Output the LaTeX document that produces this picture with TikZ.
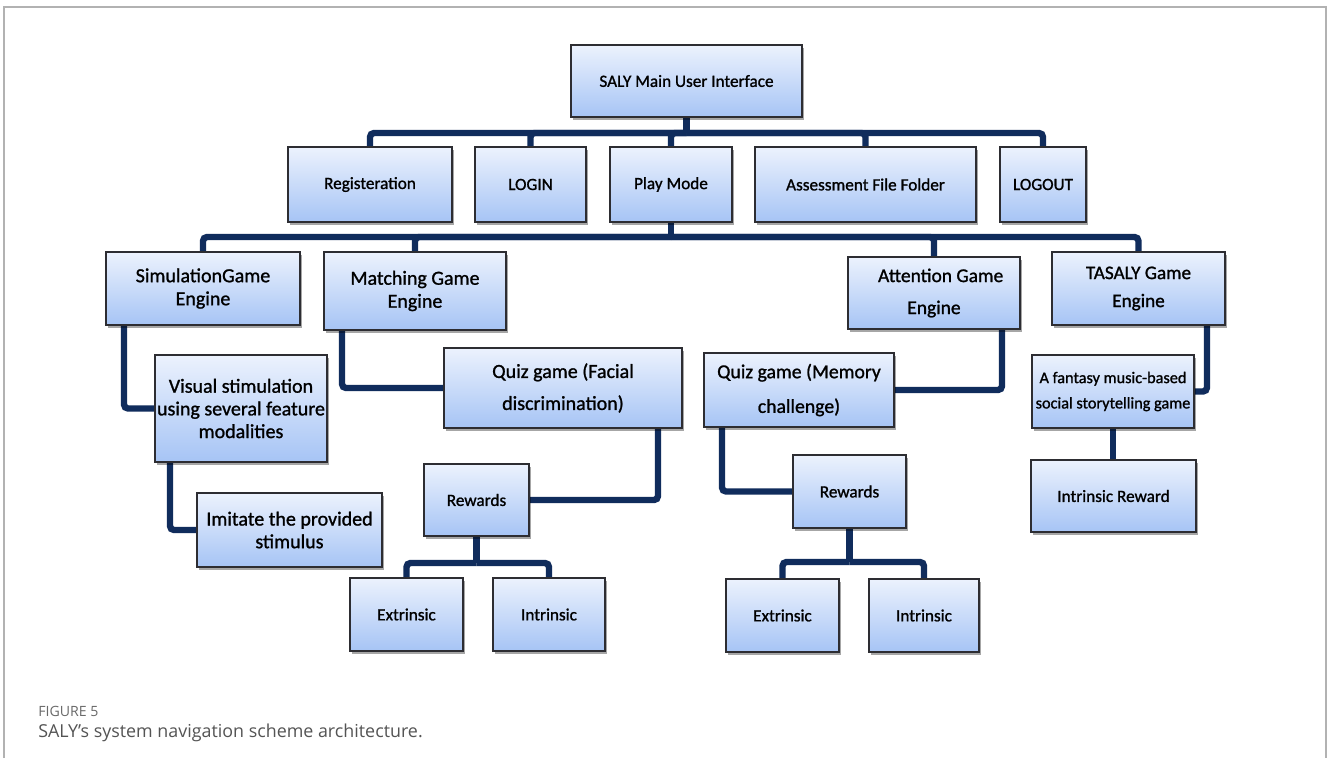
\documentclass[tikz,border=0pt]{standalone}
\usepackage{fontspec}
\setmainfont{Carlito}
\newfontfamily\boxfont{Carlito}[RawFeature={embolden=1.1}]
\newfontfamily\capfont{Open Sans}
\usetikzlibrary{shadows,calc}

\definecolor{linknavy}{RGB}{16,44,92}
\definecolor{boxtop}{RGB}{236,242,253}
\definecolor{boxbot}{RGB}{166,196,245}
\definecolor{boxedge}{RGB}{45,45,50}
\definecolor{framegray}{RGB}{178,178,178}
\definecolor{capgray}{RGB}{105,105,105}

\pgfdeclarelayer{links}
\pgfsetlayers{links,main}

\tikzset{
  box/.style={draw=boxedge, line width=1.1pt, top color=boxtop, bottom color=boxbot,
    inner sep=0pt, outer sep=0pt, align=center, text=black,
    drop shadow={shadow xshift=1.5pt, shadow yshift=-2.5pt, opacity=0.35, fill=black}},
  txtbig/.style={font=\boxfont\fontsize{15}{17.25}\selectfont},
  txtsmall/.style={font=\boxfont\fontsize{12.9}{15}\selectfont},
  conn/.style={draw=linknavy, line width=4.8pt, rounded corners=3pt},
}

% box given by its corners in pixel units: [style]{name}{x1}{y1}{x2}{y2}{text}
\newcommand{\boxnode}[7][]{%
  \node[box,#1,minimum width={(#5-#3)*0.75pt},minimum height={(#6-#4)*0.75pt}]
    (#2) at ({(#3+#5)/2},{(#4+#6)/2}) {#7};}

\begin{document}
\begin{tikzpicture}[x=0.75pt,y=-0.75pt]
\useasboundingbox (0,0) rectangle (1328,758);

% top level
\boxnode[txtsmall]{main}{571}{45}{802}{117}{SALY Main User Interface}

% first row
\boxnode[txtsmall]{reg}{288}{147}{452}{222}{Registeration}
\boxnode[txtsmall]{login}{475}{147}{586}{222}{LOGIN}
\boxnode[txtsmall]{play}{610}{147}{732}{222}{Play Mode}
\boxnode[txtsmall]{assess}{755}{147}{976}{222}{Assessment File Folder}
\boxnode[txtsmall]{logout}{1000}{147}{1086}{222}{LOGOUT}

% game engines
\boxnode[txtbig]{sim}{106}{252}{300}{325}{SimulationGame\\Engine}
\boxnode[txtbig]{match}{324}{252}{506}{330}{Matching Game\\Engine}
\boxnode[font=\boxfont\fontsize{14.6}{24}\selectfont]{attn}{848}{257}{1020}{329}{\hspace*{10pt}Attention Game\\Engine}
\boxnode[font=\boxfont\fontsize{14.4}{21}\selectfont]{tasaly}{1052}{252}{1225}{325}{TASALY Game\\Engine}

% activities
\boxnode[font=\boxfont\fontsize{15}{17}\selectfont]{visual}{155}{355}{327}{462}{Visual stimulation\\using several feature\\modalities}
\boxnode[font=\boxfont\fontsize{15}{24}\selectfont]{quizF}{444}{348}{682}{428}{Quiz game (Facial\\discrimination)}
\boxnode[font=\boxfont\fontsize{14.8}{26}\selectfont]{quizM}{704}{353}{894}{427}{Quiz game (Memory\\challenge)}
\boxnode[font=\boxfont\fontsize{12.2}{19}\selectfont]{fantasy}{1032}{355}{1194}{428}{A fantasy music-based\\social storytelling game}
\boxnode[font=\boxfont\fontsize{15}{17}\selectfont]{imitate}{197}{493}{382}{567}{Imitate the provided\\stimulus}

% rewards
\boxnode[txtsmall]{rewA}{424}{464}{529}{536}{Rewards}
\boxnode[txtsmall]{extA}{350}{578}{463}{651}{Extrinsic}
\boxnode[txtsmall]{intA}{493}{578}{605}{651}{Intrinsic}
\boxnode[txtsmall]{rewB}{793}{455}{906}{528}{Rewards}
\boxnode[txtsmall]{extB}{726}{579}{839}{652}{Extrinsic}
\boxnode[txtsmall]{intB}{869}{579}{979}{652}{Intrinsic}
\boxnode[txtsmall]{intrew}{1031}{460}{1196}{532}{Intrinsic Reward}

% caption
\node[anchor=west, inner sep=0pt, text=capgray, font=\capfont\fontsize{10.6}{12}\selectfont]
  (figlab) at (38,711) {FIGURE 5};
\node[anchor=west, inner sep=0pt, text=capgray!80!black, font=\capfont\fontsize{13.4}{15}\selectfont]
  (figcap) at (38,733) {SALY’s system navigation scheme architecture.};

% page, frame and connectors, beneath the boxes
\begin{pgfonlayer}{links}
  \fill[white] (0,0) rectangle (1328,758);
  \draw[framegray, line width=1.5pt] (4,758) -- (4,7) -- (1326,7) -- (1326,758);

  \path (main.south) ++(0,16) coordinate (busA);
  \draw[conn] (main.south) -- (busA);
  \foreach \n in {reg,login,play,assess,logout} \draw[conn] (\n.north) |- (busA);

  \path (play.south) ++(0,15) coordinate (busB);
  \draw[conn] (play.south) -- (busB);
  \foreach \n in {sim,match,attn,tasaly} \draw[conn] (\n.north) |- (busB);

  \draw[conn] ($(sim.south west)+(18,0)$) |- (visual.west);
  \draw[conn] ($(visual.south west)+(15,0)$) |- (imitate.west);
  \draw[conn] ($(match.south west)+(18,0)$) |- (quizF.west);
  \draw[conn] ($(quizF.south east)+(-24,0)$) |- (rewA.east);
  \draw[conn] ($(attn.south east)+(-18,0)$) |- (quizM.east);
  \draw[conn] ($(quizM.south west)+(18,0)$) |- (rewB.west);
  \draw[conn] ($(tasaly.south east)+(-18,0)$) |- (fantasy.east);
  \draw[conn] (fantasy.south) -- (fantasy.south |- intrew.north);

  \path (rewA.south) ++(0,27) coordinate (busC);
  \draw[conn] (rewA.south) -- (busC);
  \foreach \n in {extA,intA} \draw[conn] (\n.north) |- (busC);

  \path (rewB.south) ++(0,34) coordinate (busD);
  \draw[conn] (rewB.south) -- (busD);
  \foreach \n in {extB,intB} \draw[conn] (\n.north) |- (busD);
\end{pgfonlayer}
\end{tikzpicture}
\end{document}
